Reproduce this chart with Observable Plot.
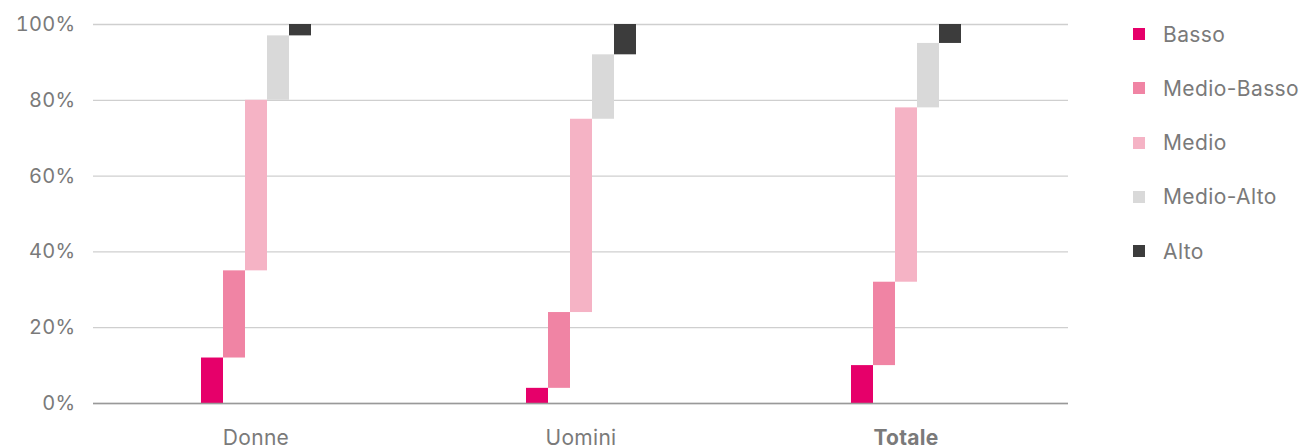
<!DOCTYPE html>
<html>
<head>
<meta charset="utf-8">
<script src="https://cdn.jsdelivr.net/npm/d3@7"></script>
<script src="https://cdn.jsdelivr.net/npm/@observablehq/plot@0.6"></script>
<style>
  body { margin: 0; background: #fff; }
  #wrap { position: relative; width: 1302px; height: 448px; overflow: hidden; font-family: Inter, "Noto Sans", sans-serif; }
  #legend { position: absolute; left: 1133px; top: 7px; }
  .item { display: flex; align-items: center; height: 54.25px; }
  .sw { width: 12px; height: 12px; margin-right: 18px; }
  .lb { font-size: 21px; letter-spacing: 0.4px; color: #7a7a7a; white-space: nowrap; }
  svg text { letter-spacing: 0.3px; }
</style>
</head>
<body>
<div id="wrap"><div id="legend"></div></div>
<script>
const groups = ["Donne", "Uomini", "Totale"];
const emphasized = "Totale";
const levels = ["Basso", "Medio-Basso", "Medio", "Medio-Alto", "Alto"];
const colors = ["#e6006a", "#f084a4", "#f5b3c5", "#d9d9d9", "#3c3c3c"];
const donne = [12, 23, 45, 17, 3];
const uomini = [4, 20, 51, 17, 8];
const totale = [10, 22, 46, 17, 5];
const yTicks = [0, 20, 40, 60, 80, 100];

const series = { Donne: donne, Uomini: uomini, Totale: totale };
const data = [];
for (const g of groups) {
  let acc = 0;
  series[g].forEach((v, i) => {
    data.push({ group: g, level: levels[i], y1: acc, y2: acc + v });
    acc += v;
  });
}

const textColor = "#7a7a7a";
const font = "Inter, 'Noto Sans', sans-serif";

const chart = Plot.plot({
  width: 1302,
  height: 448,
  marginLeft: 92,
  marginRight: 234,
  marginTop: 24,
  marginBottom: 45,
  style: { fontFamily: font, background: "transparent" },
  fx: { domain: groups, padding: 0, axis: null, label: null },
  x: { domain: levels, paddingInner: 0, paddingOuter: 4.57, axis: null },
  y: { domain: [0, 100], axis: null },
  color: { domain: levels, range: colors },
  marks: [
    Plot.gridY(yTicks, { stroke: "#cfcfcf", strokeOpacity: 1, strokeWidth: 1.3 }),
    Plot.axisY(yTicks, {
      tickSize: 0, tickPadding: 18, fontSize: 20, fill: textColor,
      tickFormat: d => d + "%", label: null
    }),
    Plot.barY(data, { fx: "group", x: "level", y1: "y1", y2: "y2", fill: "level" }),
    Plot.ruleY([0], { stroke: "#999", strokeWidth: 1.6 }),
    Plot.text(groups.filter(g => g !== emphasized), {
      fx: d => d, text: d => d, frameAnchor: "bottom", dy: 41,
      fontSize: 21, fill: textColor
    }),
    Plot.text([emphasized], {
      fx: d => d, text: d => d, frameAnchor: "bottom", dy: 41,
      fontSize: 21, fontWeight: "bold", fill: textColor
    })
  ]
});
document.getElementById("wrap").prepend(chart);

const legend = document.getElementById("legend");
levels.forEach((l, i) => {
  const item = document.createElement("div");
  item.className = "item";
  const sw = document.createElement("div");
  sw.className = "sw";
  sw.style.background = colors[i];
  const lb = document.createElement("span");
  lb.className = "lb";
  lb.textContent = l;
  item.append(sw, lb);
  legend.append(item);
});
</script>
</body>
</html>
